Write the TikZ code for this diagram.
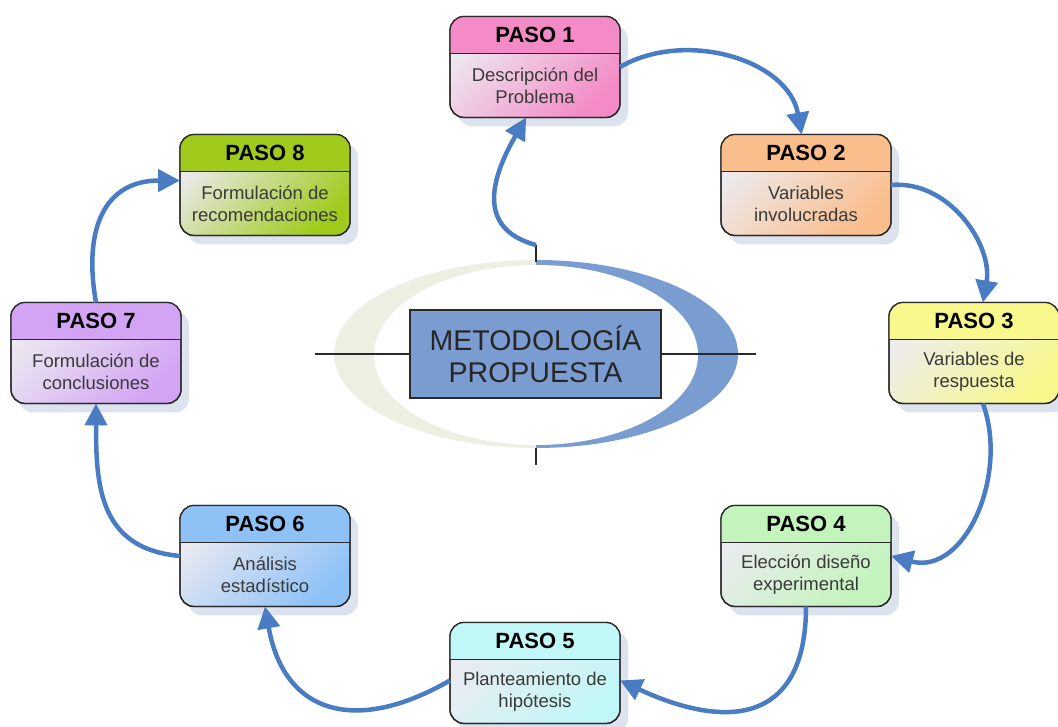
\documentclass[tikz,border=0pt]{standalone}
\usepackage{fontspec}
\setmainfont{Liberation Sans}
\usetikzlibrary{arrows.meta,calc,shadows}
\definecolor{pasopink}{HTML}{F48BC6}
\definecolor{pasopeach}{HTML}{FABE8C}
\definecolor{pasoyellow}{HTML}{F8F88C}
\definecolor{pasomint}{HTML}{C2F4BB}
\definecolor{pasocyan}{HTML}{C2F7F7}
\definecolor{pasosky}{HTML}{8EC2F7}
\definecolor{pasolilac}{HTML}{D3A4F4}
\definecolor{pasolime}{HTML}{A0CB1C}
\definecolor{bodytop}{HTML}{ECEBF1}
\definecolor{boxline}{HTML}{2A2A2A}
\definecolor{bodytext}{HTML}{3A3A3A}
\definecolor{shadowgray}{HTML}{DCE3EE}
\definecolor{flowblue}{HTML}{4A7CC3}
\definecolor{ringleft}{HTML}{EDEFE3}
\definecolor{ringright}{HTML}{7A9DD1}
\definecolor{metablue}{HTML}{7B9CD0}
\tikzstyle{pasobox} = [rectangle, rounded corners=14pt, minimum width=170pt, minimum height=101pt, inner sep=0pt, outer sep=0pt, draw=boxline, line width=1.3pt, drop shadow={shadow xshift=8pt, shadow yshift=-9pt, fill=shadowgray, opacity=1}]
\tikzstyle{pasohead} = [anchor=center, font={\bfseries\fontsize{22}{26}\selectfont}, text=black]
\tikzstyle{pasotext} = [anchor=center, align=center, font={\fontsize{18.5}{22}\selectfont}, text=bodytext]
\tikzstyle{metabox} = [rectangle, minimum width=251pt, minimum height=88pt, fill=metablue, draw=boxline, line width=1.5pt, align=center, text=black!85, font={\fontsize{28.5}{32}\selectfont}]
\tikzstyle{axis} = [draw=boxline, line width=1.2pt]
\tikzstyle{flow} = [draw=flowblue, line width=4.5pt, -{Triangle[length=22pt,width=22pt]}]

\begin{document}
\begin{tikzpicture}[x=1pt, y=1pt]
  \useasboundingbox (0,0) rectangle (1058,727);

  \begin{scope}
    \clip (330,260) rectangle (536,490);
    \fill[ringleft] (536,373) ellipse [x radius=202, y radius=94];
  \end{scope}
  \begin{scope}
    \clip (536,260) rectangle (745,490);
    \fill[ringright] (536,373) ellipse [x radius=202, y radius=94];
  \end{scope}
  \fill[white] (536,372) ellipse [x radius=162, y radius=90];

  \coordinate (lineL) at (315,373);
  \coordinate (lineR) at (756,373);
  \coordinate (ctop) at (536,482);
  \coordinate (cbot) at (536,262);
  \node[metabox, at={(535.5,373)}] (meta) {METODOLOGÍA\\PROPUESTA};
  \draw[axis] (lineL) -- (meta.west);
  \draw[axis] (meta.east) -- (lineR);
  \draw[axis] (ctop) -- ++(0,-17);
  \draw[axis] (cbot) -- ++(0,17);

  \foreach \i/\x/\y/\col/\txt in {
      1/535/660/pasopink/{Descripción del\\Problema},
      2/806/542/pasopeach/{Variables\\involucradas},
      3/974/374/pasoyellow/{Variables de\\respuesta},
      4/806/171/pasomint/{Elección diseño\\experimental},
      5/535/54/pasocyan/{Planteamiento de\\hipótesis},
      6/265/171/pasosky/{Análisis\\estadístico},
      7/96/374/pasolilac/{Formulación de\\conclusiones},
      8/265/542/pasolime/{Formulación de\\recomendaciones}} {
    \node[pasobox, top color=bodytop, middle color=\col!75!bodytop, bottom color=\col, shading angle=45, at={(\x,\y)}] (p\i) {};
    \begin{scope}
      \clip[rounded corners=14pt] (p\i.north west) rectangle (p\i.south east);
      \fill[\col] (p\i.north west) rectangle ($(p\i.north east)+(0,-37)$);
    \end{scope}
    \draw[line width=1.2pt, draw=boxline] ($(p\i.north west)+(0,-37)$) -- ($(p\i.north east)+(0,-37)$);
    \draw[rounded corners=14pt, line width=1.3pt, draw=boxline] (p\i.north west) rectangle (p\i.south east);
    \node[pasohead, at={($(p\i.north)+(0,-18.5)$)}] (h\i) {PASO \i};
    \node[pasotext, at={($(p\i.south)+(0,32)$)}] (t\i) {\txt};
  }

  \draw[flow] (p1.east) to[out=30, in=100] (p2.95);
  \draw[flow] (p2.east) to[out=5, in=80] (p3.80);
  \draw[flow] (p3.-80) to[out=-70, in=-15, looseness=1.1] (p4.east);
  \draw[flow] (p4.south) to[out=-90, in=-25, looseness=1.5] (p5.-5);
  \draw[flow] (p5.185) to[out=-150, in=-80, looseness=1.4] (p6.south);
  \draw[flow] (p6.west) to[out=175, in=-90, looseness=1.2] (p7.south);
  \draw[flow] (p7.north) to[out=100, in=180, looseness=1.3] (p8.177);
  \draw[flow] (ctop) to[out=165, in=-120, looseness=1.3] (p1.-100);

\end{tikzpicture}
\end{document}
